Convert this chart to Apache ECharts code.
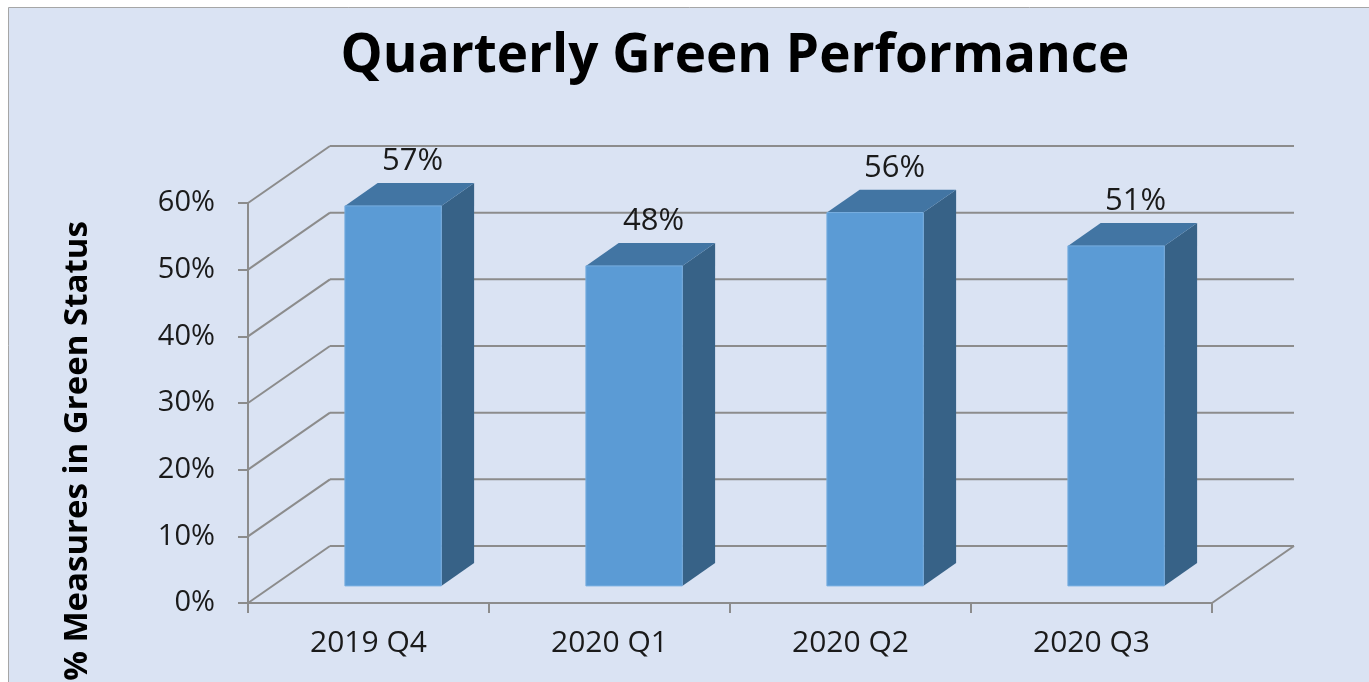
<!DOCTYPE html>
<html>
<head>
<meta charset="utf-8">
<script src="https://cdn.jsdelivr.net/npm/echarts@6/dist/echarts.min.js"></script>
<style>
html,body{margin:0;padding:0;background:#fff;}
#chart{width:1369px;height:682px;}
</style>
</head>
<body>
<div id="chart"></div>
<script>
const categories = ['2019 Q4', '2020 Q1', '2020 Q2', '2020 Q3'];
const values = [57, 48, 56, 51];
const yTicks = [0, 10, 20, 30, 40, 50, 60];
const titleText = 'Quarterly Green Performance';
const yName = '% Measures in Green Status';

const DX = 82, DY = -57;      // depth of the 3D box
const F0 = 0.30, F1 = 0.70;   // bar position in depth
const LINE = '#8c8c8c';
const FONT = '"Open Sans", sans-serif';

const chart = echarts.init(document.getElementById('chart'));

function wallItem(params, api) {
  const cs = params.coordSys;
  const v = api.value(1);
  const y = api.coord([0, v])[1];
  const style = { stroke: LINE, lineWidth: 2, fill: null };
  const children = [
    { type: 'line', shape: { x1: cs.x, y1: y, x2: cs.x + DX, y2: y + DY }, style },
    { type: 'line', shape: { x1: cs.x + DX, y1: y + DY, x2: cs.x + cs.width + DX, y2: y + DY }, style }
  ];
  if (v === 0) {
    children.push({ type: 'line', shape: { x1: cs.x + cs.width, y1: y, x2: cs.x + cs.width + DX, y2: y + DY }, style });
  }
  return { type: 'group', children };
}

function barItem(params, api) {
  const idx = api.value(0), v = api.value(1);
  const base = api.coord([idx, 0]);
  const top = api.coord([idx, v]);
  const bw = api.size([1, 0])[0] * 0.4;
  const x0 = base[0] - bw / 2 + DX * F0, x1 = x0 + bw;
  const yb = base[1] + DY * F0, yt = top[1] + DY * F0;
  const ddx = DX * (F1 - F0), ddy = DY * (F1 - F0);
  return {
    type: 'group',
    children: [
      { type: 'polygon', shape: { points: [[x1, yt], [x1 + ddx, yt + ddy], [x1 + ddx, yb + ddy], [x1, yb]] },
        style: { fill: '#376287' } },
      { type: 'polygon', shape: { points: [[x0, yt], [x0 + ddx, yt + ddy], [x1 + ddx, yt + ddy], [x1, yt]] },
        style: { fill: '#4275a3' } },
      { type: 'rect', shape: { x: x0, y: yt, width: bw, height: yb - yt },
        style: { fill: '#5b9bd5', stroke: '#78aee0', lineWidth: 1 } },
      { type: 'text', x: (x0 + x1) / 2 + ddx / 2 + 3, y: yt + ddy - 22,
        style: { text: v + '%', fill: '#1a1a1a', font: '31px ' + FONT, align: 'center', verticalAlign: 'middle' } }
    ]
  };
}

chart.setOption({
  backgroundColor: '#ffffff',
  animation: false,
  graphic: [
    { type: 'rect', z: -10, shape: { x: 8.5, y: 7.5, width: 1400, height: 700 },
      style: { fill: '#dae3f3', stroke: '#a6a6a6', lineWidth: 1 } },
    { type: 'text', x: 735, y: 57, z: 10,
      style: { text: titleText, fill: '#000', font: 'bold 53px ' + FONT, align: 'center', verticalAlign: 'middle' } },
    { type: 'text', x: 78, y: 451, rotation: Math.PI / 2, z: 10,
      style: { text: yName, fill: '#000', font: 'bold 33px ' + FONT, align: 'center', verticalAlign: 'middle' } }
  ],
  grid: { left: 248, top: 203, width: 964, height: 400 },
  xAxis: {
    type: 'category',
    data: categories,
    axisLine: { lineStyle: { color: LINE, width: 2 } },
    axisTick: { show: true, length: 10, lineStyle: { color: LINE, width: 2 } },
    axisLabel: { color: '#1a1a1a', fontSize: 30, fontFamily: FONT, margin: 25 },
    splitLine: { show: false }
  },
  yAxis: {
    type: 'value',
    min: 0, max: 60, interval: 10,
    axisLine: { show: true, lineStyle: { color: LINE, width: 2 } },
    axisTick: { show: true, length: 10, lineStyle: { color: LINE, width: 2 } },
    axisLabel: { color: '#1a1a1a', fontSize: 29, fontFamily: FONT, margin: 33, formatter: '{value}%' },
    splitLine: { show: false }
  },
  series: [
    { type: 'custom', name: 'walls', z: 1, silent: true,
      renderItem: wallItem, encode: { x: 0, y: 1 },
      data: yTicks.map(t => [0, t]) },
    { type: 'custom', name: 'Green', z: 5,
      renderItem: barItem, encode: { x: 0, y: 1 },
      data: values.map((v, i) => [i, v]) }
  ]
});
</script>
</body>
</html>
